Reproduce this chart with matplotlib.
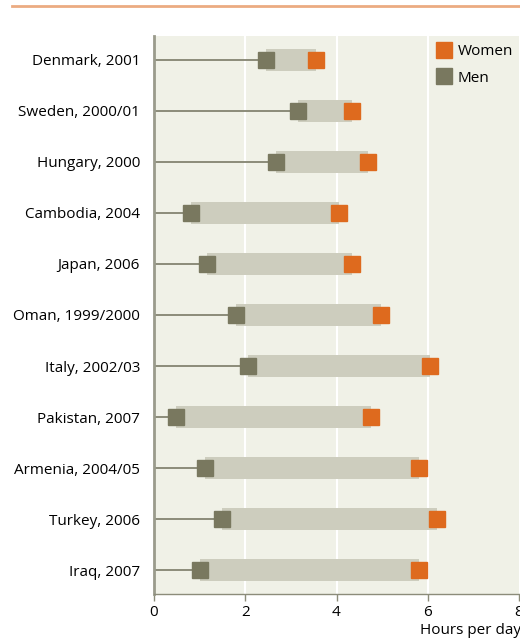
import matplotlib.pyplot as plt
from matplotlib.lines import Line2D

plt.rcParams['font.family'] = ['Open Sans', 'DejaVu Sans']

# data: hours per day
countries = ["Denmark, 2001", "Sweden, 2000/01", "Hungary, 2000", "Cambodia, 2004",
             "Japan, 2006", "Oman, 1999/2000", "Italy, 2002/03", "Pakistan, 2007",
             "Armenia, 2004/05", "Turkey, 2006", "Iraq, 2007"]
men = [2.45, 3.15, 2.67, 0.81, 1.16, 1.79, 2.06, 0.48, 1.12, 1.49, 1.01]
women = [3.54, 4.33, 4.70, 4.05, 4.33, 4.97, 6.06, 4.75, 5.80, 6.21, 5.80]

c_men = "#79785F"
c_women = "#DE6A1E"
c_bar = "#CDCDBE"
c_bg = "#F0F1E7"

fig = plt.figure(figsize=(5.2, 6.39), dpi=100)
ax = fig.add_axes([154 / 520, 45 / 639, 365 / 520, 558 / 639])
ax.set_facecolor(c_bg)

# orange rule at the top
fig.add_artist(Line2D([12 / 520, 1.0], [1 - 6 / 639, 1 - 6 / 639],
                      color="#EBAB82", linewidth=2))

y = list(range(len(countries)))
gap = [w - m for m, w in zip(men, women)]

for xv in [2, 4, 6]:
    ax.axvline(xv, color="white", linewidth=1.5, zorder=0)

ax.hlines(y, 0, men, color="#8C8C7A", linewidth=1.4, zorder=1)
ax.barh(y, gap, left=men, height=0.43, color=c_bar, zorder=2)
ax.plot(men, y, 's', color=c_men, markersize=11.5, zorder=3, linestyle='none')
ax.plot(women, y, 's', color=c_women, markersize=11.5, zorder=3, linestyle='none')

ax.set_xlim(0, 8)
ax.set_ylim(10.47, -0.47)
ax.set_yticks(y)
ax.set_yticklabels(countries, fontsize=11)
ax.tick_params(axis='y', length=0, pad=10)
ax.set_xticks([0, 2, 4, 6, 8])
ax.tick_params(axis='x', length=5, width=1, color="#8C8C7A", labelsize=11, pad=3)

for s in ["top", "right"]:
    ax.spines[s].set_visible(False)
ax.spines["left"].set_color("#9A9B8C")
ax.spines["left"].set_linewidth(2)
ax.spines["bottom"].set_color("#8C8C7A")
ax.spines["bottom"].set_linewidth(1)

ax.text(1.005, -0.052, "Hours per day", transform=ax.transAxes, ha="right", va="top",
        fontsize=11)

handles = [Line2D([], [], marker='s', color=c_women, linestyle='none', markersize=11.5),
           Line2D([], [], marker='s', color=c_men, linestyle='none', markersize=11.5)]
ax.legend(handles, ["Women", "Men"], loc="upper left", bbox_to_anchor=(0.756, 0.996),
          frameon=False, fontsize=11, handletextpad=0.3, labelspacing=0.75,
          handlelength=1.1, borderaxespad=0)

fig.savefig("out.png", dpi=100)
